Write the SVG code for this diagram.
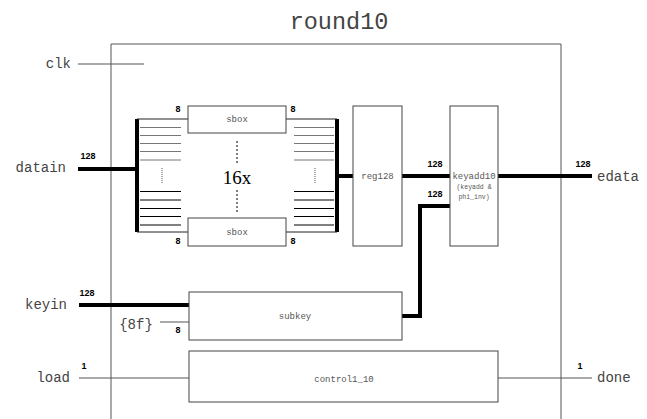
<svg xmlns="http://www.w3.org/2000/svg" width="647" height="419" viewBox="0 0 647 419">
<style>
.box{fill:#fff;stroke:#444;stroke-width:1}
.thin{stroke:#555;stroke-width:1;fill:none}
.thick{stroke:#000;stroke-width:4;fill:none}
.port{font-family:"Liberation Mono",monospace;font-size:14px;fill:#444}
.lbl{font-family:"Liberation Mono",monospace;font-size:9px;fill:#555;text-anchor:middle}
.sm{font-family:"Liberation Mono",monospace;font-size:6.5px;fill:#555;text-anchor:middle}
.w{font-family:"Liberation Sans",Arial,sans-serif;font-size:9px;font-weight:bold;fill:#000;text-anchor:middle}
</style>
<rect width="647" height="419" fill="#fff"/>
<text x="339" y="29" font-family="Liberation Mono,monospace" font-size="23.5" fill="#444" text-anchor="middle">round10</text>
<g id="outer"><path d="M111,420 V44 H561 V420" class="thin"/></g>

<g id="connectors">
  <line x1="78" y1="64" x2="144" y2="64" class="thin"/>
  <line x1="78" y1="169" x2="137" y2="169" class="thick"/>
  <line x1="337" y1="176" x2="353" y2="176" class="thick"/>
  <line x1="402" y1="176" x2="450" y2="176" class="thick"/>
  <line x1="498" y1="176" x2="592" y2="176" class="thick"/>
  <path d="M450,206 H420 V316 H402" class="thick"/>
  <line x1="79" y1="305" x2="189" y2="305" class="thick"/>
  <line x1="160" y1="322" x2="189" y2="322" class="thin" stroke="#000"/>
  <line x1="79" y1="378" x2="189" y2="378" class="thin"/>
  <line x1="498" y1="378" x2="592" y2="378" class="thin"/>
</g>

<g id="ports">
  <text x="71" y="68" class="port" text-anchor="end">clk</text>
  <text x="66" y="172" class="port" text-anchor="end">datain</text>
  <text x="67" y="309" class="port" text-anchor="end">keyin</text>
  <text x="70" y="382" class="port" text-anchor="end">load</text>
  <text x="597" y="181" class="port">edata</text>
  <text x="597" y="382" class="port">done</text>
  <text x="136" y="329" class="port" font-size="12" text-anchor="middle">{8f}</text>
  <text x="88" y="159" class="w">128</text>
  <text x="87" y="296" class="w">128</text>
  <text x="84" y="369" class="w">1</text>
  <text x="435" y="167" class="w">128</text>
  <text x="435" y="197" class="w">128</text>
  <text x="583" y="167" class="w">128</text>
  <text x="580" y="369" class="w">1</text>
  <text x="178" y="333" class="w">8</text>
</g>

<g id="sbox_array">
  <line x1="137" y1="119" x2="137" y2="232" stroke="#000" stroke-width="4"/>
  <line x1="337" y1="119" x2="337" y2="232" stroke="#000" stroke-width="4"/>
  <path d="M137,119 H188 M137,232 H188 M286,119 H337 M286,232 H337" stroke="#222" stroke-width="1"/>
  <g stroke="#777" stroke-width="1">
    <path d="M140,127.5 H181 M140,135.5 H181 M140,143.5 H181 M140,151.5 H181 M140,160 H181"/>
    <path d="M294,127.5 H334 M294,135.5 H334 M294,143.5 H334 M294,151.5 H334 M294,160 H334"/>
  </g>
  <g stroke="#000" stroke-width="1">
    <path d="M140,191.5 H181 M140,200 H181 M140,208.5 H181 M140,216.5 H181 M140,225 H181"/>
    <path d="M294,191.5 H334 M294,200 H334 M294,208.5 H334 M294,216.5 H334 M294,225 H334"/>
  </g>
  <line x1="162" y1="168" x2="162" y2="184" stroke="#555" stroke-dasharray="1,1"/>
  <line x1="315" y1="168" x2="315" y2="184" stroke="#555" stroke-dasharray="1,1"/>
  <line x1="237" y1="141" x2="237" y2="165" stroke="#000" stroke-dasharray="2,2"/>
  <line x1="237" y1="190" x2="237" y2="213" stroke="#000" stroke-dasharray="2,2"/>
  <text x="237" y="184" font-family="Liberation Serif,serif" font-size="19" fill="#000" text-anchor="middle">16x</text>
  <text x="178" y="112" class="w">8</text>
  <text x="293" y="112" class="w">8</text>
  <text x="178" y="244" class="w">8</text>
  <text x="293" y="244" class="w">8</text>
</g>
<g id="sbox_top"><rect x="188" y="106" width="98" height="27" class="box"/><text x="237" y="122" class="lbl">sbox</text></g>
<g id="sbox_bot"><rect x="188" y="218" width="98" height="28" class="box"/><text x="237" y="235" class="lbl">sbox</text></g>
<g id="reg128"><rect x="353" y="106" width="49" height="140" class="box"/><text x="377.5" y="179" class="lbl">reg128</text></g>
<g id="keyadd10"><rect x="450" y="106" width="48" height="140" class="box"/><text x="474" y="179" class="lbl">keyadd10</text><text x="474" y="189" class="sm">(keyadd &amp;</text><text x="474" y="199" class="sm">phi_inv)</text></g>
<g id="subkey"><rect x="189" y="292" width="213" height="48" class="box"/><text x="295" y="319" class="lbl" font-size="9.5">subkey</text></g>
<g id="control"><rect x="189" y="351" width="309" height="51" class="box"/><text x="344" y="382" class="lbl" font-size="9.5">control1_10</text></g>
</svg>
